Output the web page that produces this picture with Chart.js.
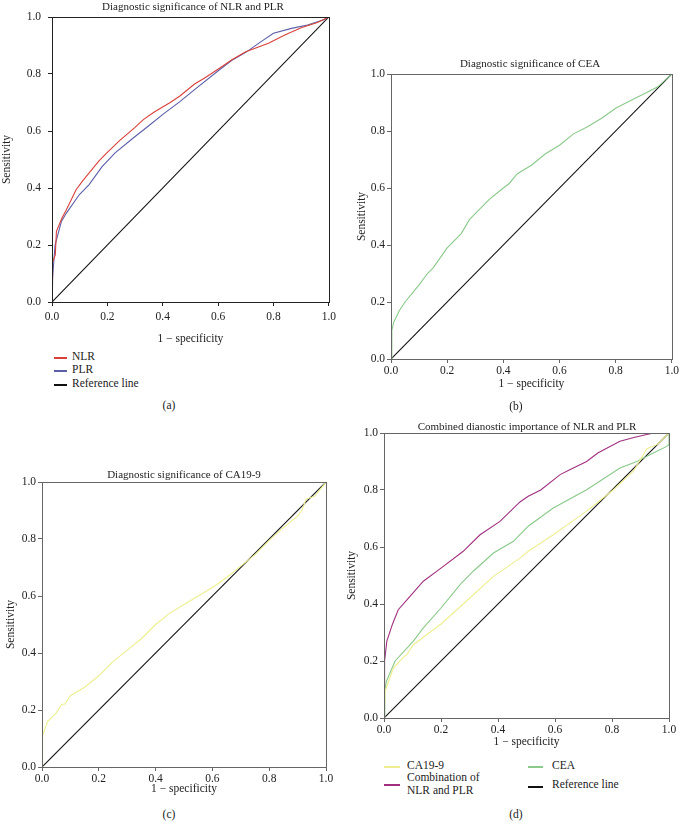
<!DOCTYPE html>
<html>
<head>
<meta charset="utf-8">
<script src="https://cdn.jsdelivr.net/npm/chart.js@4.4.0/dist/chart.umd.min.js"></script>
<style>
  body { margin: 0; background: #fff; }
  #page { position: relative; width: 680px; height: 829px; overflow: hidden;
          font-family: "Liberation Serif", "DejaVu Serif", serif; color: #222; }
  canvas { position: absolute; }
  .t { position: absolute; transform: translate(-50%, -50%); font-size: 11px; white-space: nowrap; color: #222; }
  .lab { position: absolute; transform: translate(-50%, -50%); font-size: 11.5px; color: #222; }
  .lg { position: absolute; font-size: 11.5px; line-height: 13px; white-space: nowrap; color: #222; }
  .ln { position: absolute; height: 1.5px; }
</style>
</head>
<body>
<div id="page">
  <canvas id="cA"></canvas>
  <canvas id="cB"></canvas>
  <canvas id="cC"></canvas>
  <canvas id="cD"></canvas>

  <div class="t" style="left:193px;top:6px">Diagnostic significance of NLR and PLR</div>
  <div class="t" style="left:530px;top:63px">Diagnostic significance of CEA</div>
  <div class="t" style="left:184px;top:474px">Diagnostic significance of CA19-9</div>
  <div class="t" style="left:527px;top:426px">Combined dianostic importance of NLR and PLR</div>

  <div class="lab" style="left:169px;top:405px">(a)</div>
  <div class="lab" style="left:516px;top:406px">(b)</div>
  <div class="lab" style="left:169px;top:814px">(c)</div>
  <div class="lab" style="left:516px;top:814px">(d)</div>

  <!-- legend (a) -->
  <div class="ln" style="left:54px;top:357px;width:13px;background:#d9403a"></div>
  <div class="lg" style="left:72px;top:350px">NLR</div>
  <div class="ln" style="left:54px;top:370px;width:13px;background:#5b5fa8"></div>
  <div class="lg" style="left:72px;top:363px">PLR</div>
  <div class="ln" style="left:54px;top:384px;width:13px;background:#111"></div>
  <div class="lg" style="left:72px;top:377px">Reference line</div>

  <!-- legend (d) -->
  <div class="ln" style="left:384px;top:766px;width:16px;background:#eeee90"></div>
  <div class="lg" style="left:407px;top:759px">CA19-9</div>
  <div class="ln" style="left:384px;top:784px;width:16px;background:#a0307f"></div>
  <div class="lg" style="left:407px;top:771px">Combination of<br>NLR and PLR</div>
  <div class="ln" style="left:528px;top:766px;width:15px;background:#8ac98a"></div>
  <div class="lg" style="left:552px;top:759px">CEA</div>
  <div class="ln" style="left:528px;top:786px;width:15px;background:#111"></div>
  <div class="lg" style="left:552px;top:778px">Reference line</div>
</div>

<script>
// tick values and labels shared by every axis
const tickValues = [0, 0.2, 0.4, 0.6, 0.8, 1.0];
const tickLabels = ["0.0", "0.2", "0.4", "0.6", "0.8", "1.0"];

// reference diagonal
const refX = [0, 1];
const refY = [0, 1];

// (a) NLR and PLR
const nlrX = [0, 0.002, 0.012, 0.016, 0.036, 0.052, 0.087, 0.11, 0.169, 0.198, 0.245, 0.298, 0.33, 0.368, 0.427, 0.462, 0.515, 0.55, 0.605, 0.65, 0.7, 0.782, 0.841, 0.9, 0.959, 1];
const nlrY = [0.08, 0.14, 0.165, 0.248, 0.295, 0.324, 0.394, 0.424, 0.494, 0.523, 0.567, 0.611, 0.64, 0.666, 0.7, 0.723, 0.765, 0.785, 0.82, 0.85, 0.878, 0.908, 0.937, 0.962, 0.981, 1];
const plrX = [0, 0.002, 0.011, 0.034, 0.052, 0.099, 0.134, 0.181, 0.228, 0.298, 0.345, 0.404, 0.462, 0.515, 0.605, 0.65, 0.7, 0.75, 0.8, 0.865, 0.923, 0.982, 1];
const plrY = [0.06, 0.083, 0.2, 0.283, 0.312, 0.377, 0.412, 0.475, 0.523, 0.579, 0.615, 0.661, 0.703, 0.745, 0.815, 0.848, 0.876, 0.91, 0.943, 0.96, 0.972, 0.99, 1];

// (b) CEA
const ceaX = [0, 0.003, 0.01, 0.03, 0.05, 0.1, 0.13, 0.15, 0.2, 0.25, 0.28, 0.3, 0.35, 0.4, 0.42, 0.45, 0.5, 0.55, 0.6, 0.65, 0.7, 0.75, 0.8, 0.85, 0.9, 0.95, 1];
const ceaY = [0, 0.1, 0.13, 0.17, 0.2, 0.26, 0.3, 0.32, 0.39, 0.44, 0.49, 0.51, 0.56, 0.6, 0.615, 0.65, 0.68, 0.72, 0.75, 0.79, 0.815, 0.845, 0.88, 0.905, 0.93, 0.955, 1];

// (c) CA19-9
const caX = [0, 0.002, 0.02, 0.05, 0.07, 0.08, 0.1, 0.15, 0.2, 0.25, 0.3, 0.35, 0.4, 0.45, 0.5, 0.55, 0.6, 0.65, 0.7, 0.75, 0.8, 0.85, 0.9, 0.915, 0.93, 0.96, 1];
const caY = [0, 0.11, 0.16, 0.19, 0.22, 0.22, 0.25, 0.28, 0.32, 0.37, 0.41, 0.45, 0.5, 0.54, 0.57, 0.6, 0.63, 0.665, 0.705, 0.745, 0.795, 0.84, 0.88, 0.9, 0.94, 0.95, 1];

// (d) combined panel
const combX = [0, 0.002, 0.01, 0.03, 0.05, 0.085, 0.138, 0.2, 0.278, 0.337, 0.407, 0.477, 0.506, 0.55, 0.618, 0.65, 0.711, 0.75, 0.828, 0.88, 0.945, 1];
const combY = [0.1, 0.2, 0.27, 0.33, 0.38, 0.42, 0.48, 0.526, 0.585, 0.643, 0.69, 0.758, 0.778, 0.8, 0.854, 0.87, 0.9, 0.93, 0.971, 0.985, 1, 1];
const ceaDX = [0, 0.003, 0.009, 0.039, 0.103, 0.138, 0.2, 0.267, 0.313, 0.384, 0.454, 0.506, 0.594, 0.711, 0.828, 0.887, 0.945, 0.992, 1, 1];
const ceaDY = [0, 0.1, 0.13, 0.2, 0.27, 0.316, 0.386, 0.468, 0.515, 0.579, 0.62, 0.673, 0.737, 0.801, 0.877, 0.9, 0.93, 0.953, 0.96, 1];
const caDX = [0, 0.004, 0.033, 0.07, 0.08, 0.103, 0.2, 0.278, 0.384, 0.477, 0.506, 0.594, 0.711, 0.805, 0.875, 0.91, 0.922, 0.96, 1];
const caDY = [0, 0.094, 0.175, 0.215, 0.222, 0.257, 0.33, 0.4, 0.497, 0.561, 0.585, 0.643, 0.726, 0.801, 0.866, 0.924, 0.945, 0.96, 1];

const FONT = "'Liberation Serif', 'DejaVu Serif', serif";

function pts(xs, ys) {
    return xs.map((x, i) => ({ x: x, y: ys[i] }));
}

function line(label, xs, ys, color) {
    return {
        label: label,
        data: pts(xs, ys),
        showLine: true,
        borderColor: color,
        backgroundColor: color,
        borderWidth: 1.1,
        pointRadius: 0,
        tension: 0
    };
}

// draws the full box round the plot area
const boxPlugin = {
    id: 'box',
    afterDraw(chart, args, opts) {
        const a = chart.chartArea;
        const ctx = chart.ctx;
        ctx.save();
        ctx.strokeStyle = opts.color;
        ctx.lineWidth = 1;
        ctx.strokeRect(Math.round(a.left) + 0.5, Math.round(a.top) + 0.5,
            Math.round(a.right - a.left), Math.round(a.bottom - a.top));
        ctx.restore();
    }
};

function axis(color, size, labelPad, title, titlePad) {
    return {
        type: 'linear',
        min: 0,
        max: 1,
        afterBuildTicks: s => { s.ticks = tickValues.map(v => ({ value: v })); },
        afterFit: s => { if (s.isHorizontal()) s.height = size; else s.width = size; },
        grid: { drawOnChartArea: false, drawTicks: true, tickLength: 4, color: color },
        border: { display: true, color: color },
        ticks: {
            padding: labelPad,
            color: '#222',
            font: { family: FONT, size: 11.5 },
            callback: (v) => { const i = tickValues.indexOf(v); return i >= 0 ? tickLabels[i] : v.toFixed(1); },
            maxRotation: 0
        },
        title: {
            display: true,
            text: title,
            color: '#222',
            font: { family: FONT, size: 11.5 },
            padding: titlePad
        }
    };
}

function makePanel(id, box, pad, yWidth, xHeight, yPad, xPad, color, datasets) {
    const c = document.getElementById(id);
    c.style.left = box[0] + 'px';
    c.style.top = box[1] + 'px';
    c.style.width = box[2] + 'px';
    c.style.height = box[3] + 'px';
    c.width = box[2];
    c.height = box[3];
    new Chart(c.getContext('2d'), {
        type: 'scatter',
        data: { datasets: datasets },
        plugins: [boxPlugin],
        options: {
            responsive: false,
            animation: false,
            layout: { padding: pad },
            plugins: {
                legend: { display: false },
                tooltip: { enabled: false },
                box: { color: color }
            },
            scales: {
                x: axis(color, xHeight, xPad, '1 \u2212 specificity', { top: 0, bottom: 4 }),
                y: axis(color, yWidth, yPad, 'Sensitivity', { top: 0, bottom: 0 })
            }
        }
    });
}

makePanel('cA', [0, 0, 340, 350], { left: 0, top: 17, right: 5, bottom: 0 }, 52, 48, 7, 4, '#222', [
    line('NLR', nlrX, nlrY, '#d9403a'),
    line('PLR', plrX, plrY, '#5b5fa8'),
    line('Reference line', refX, refY, '#111')
]);

makePanel('cB', [340, 0, 340, 395], { left: 15, top: 74, right: 6, bottom: 0 }, 36, 36, 2, 1, '#666', [
    line('CEA', ceaX, ceaY, '#8ac98a'),
    line('Reference line', refX, refY, '#111')
]);

makePanel('cC', [0, 420, 340, 380], { left: 4, top: 62, right: 14, bottom: 0 }, 38, 33, 2, 1, '#666', [
    line('CA19-9', caX, caY, '#eeee90'),
    line('Reference line', refX, refY, '#111')
]);

makePanel('cD', [340, 420, 340, 333], { left: 5, top: 13, right: 11, bottom: 0 }, 39, 35, 2, 1, '#666', [
    line('CA19-9', caDX, caDY, '#eeee90'),
    line('Combination of NLR and PLR', combX, combY, '#a0307f'),
    line('CEA', ceaDX, ceaDY, '#8ac98a'),
    line('Reference line', refX, refY, '#111')
]);
</script>
</body>
</html>
